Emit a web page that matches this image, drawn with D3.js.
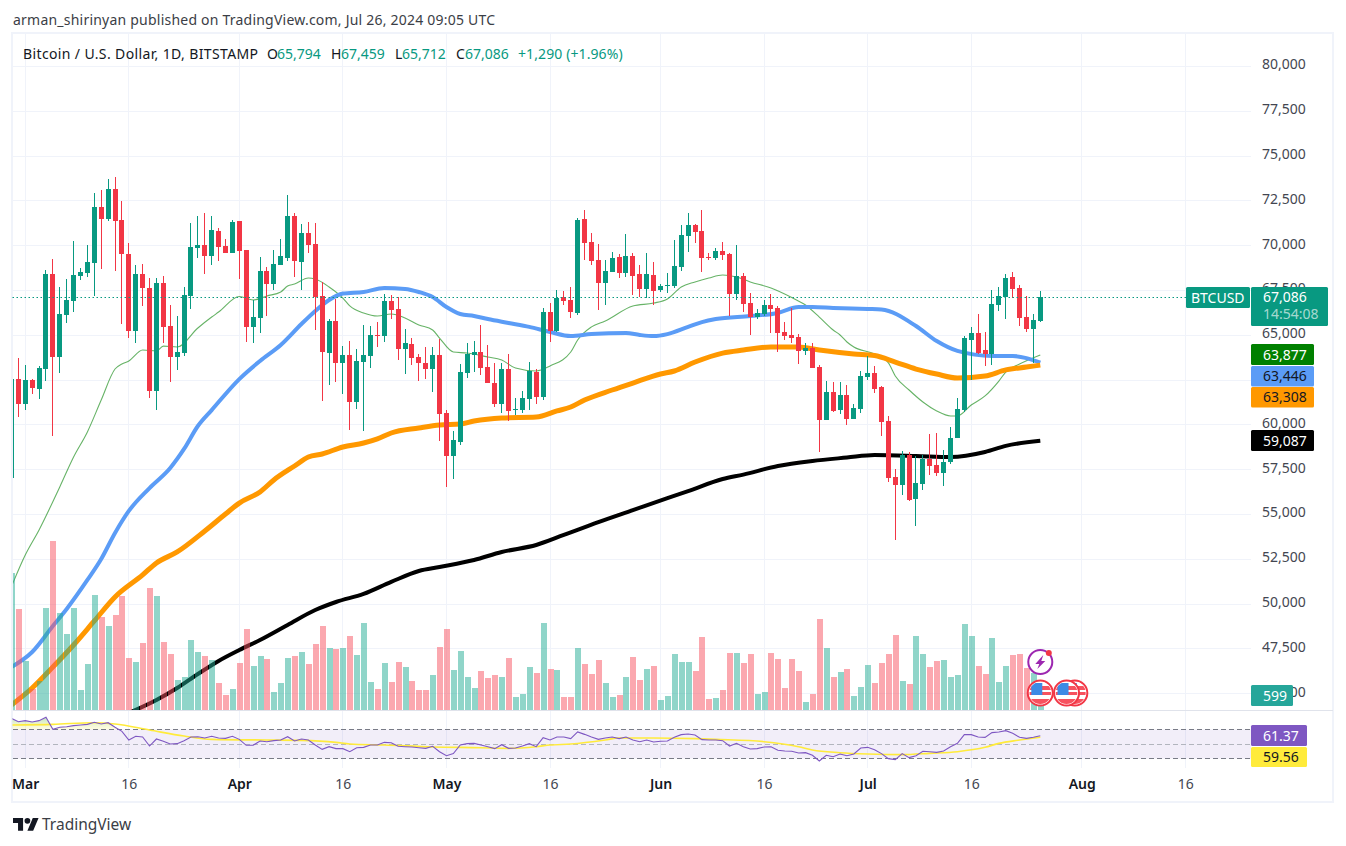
<!DOCTYPE html>
<html><head><meta charset="utf-8">
<script src="https://cdn.jsdelivr.net/npm/d3@7/dist/d3.min.js"></script>
<style>html,body{margin:0;padding:0;background:#fff;overflow:hidden}svg{display:block}
text{font-family:"Noto Sans",sans-serif}</style></head><body>
<svg id="c" width="1346" height="846"></svg>
<script>
// Day index 0 = 1 March 2024. Series below run from day -2 to day 147.
const firstDay = -2;
const opens = [57000,62510,61130,62470,61970,63090,68390,63760,66100,66880,
68280,68440,69000,72130,71460,73130,71400,69500,65210,68390,
67610,61860,67890,65490,63760,63980,67160,69840,70010,69390,
70790,69950,69560,71350,69730,65430,65930,68560,67830,68890,
69280,71630,69060,70680,70060,67160,63980,65770,63420,63870,
61250,63480,63810,64980,64930,66880,66440,64200,64480,63760,
63420,63090,63870,60630,58230,59010,62860,63870,64040,63200,
62310,61130,63090,60800,60800,61410,62920,61530,66270,65210,
67100,66940,66210,71460,70170,69170,67890,68500,69340,68440,
69390,68390,67550,68330,67500,67720,67720,68780,70510,71120,
70790,69340,69280,69670,69500,67270,68280,66770,65990,66160,
66660,66490,65150,64980,64870,64090,64260,63200,60240,61800,
60800,61640,60300,60860,62640,62860,62080,60190,57060,56620,
58290,55830,56670,58070,57730,57280,57900,59240,60800,64710,
65100,64150,63920,66660,67100,68220,67610,65990,65320,65794];
const highs = [62510,63680,63310,62530,63260,68610,69230,67660,68110,70230,
68720,70010,72910,73080,73690,73800,72460,70120,68890,68950,
68170,68170,68280,66660,66050,67660,71230,71630,71790,71630,
70960,70340,71400,71350,69730,66940,69340,68780,69730,70340,
72800,71790,71180,71290,71230,67940,65880,66990,64370,64650,
64200,65540,65490,65710,67270,67220,67100,65320,64820,63920,
64320,64320,64760,60800,59630,63370,64540,64650,65540,64430,
63420,63420,63920,61470,61860,63480,63090,66490,66770,67500,
67440,67660,71510,71960,70680,70060,69170,69620,69500,70620,
69560,68890,69560,69060,67830,68440,70290,71120,71790,71180,
71960,69560,69840,70170,69560,70010,68440,67330,66440,66940,
67270,66600,65710,66490,65040,64540,64540,63310,62420,62360,
62360,62190,61130,62980,63810,63260,62140,60470,57510,58510,
58460,58230,58290,59460,59520,58570,59850,61470,64930,65430,
66160,65150,67500,67660,68390,68500,67770,67160,66160,67459];
const lows = [56800,60410,60800,61690,61410,62420,59350,62860,65650,66270,
68050,68220,67160,68670,71350,68560,65600,64820,64540,66600,
61470,60800,64540,62360,63030,63810,66440,69280,68390,68890,
69110,69560,69560,68110,64590,64540,65100,66050,67500,68890,
69110,68220,67500,69560,65260,61300,62190,62360,61690,59680,
60860,59630,63140,64320,64590,65880,63590,62810,63310,62420,
62530,61800,59070,56500,56950,58850,62590,62920,62750,62310,
60970,60630,60190,60520,60630,60800,61130,61360,64590,65150,
66660,65930,66100,69170,68890,66380,66660,68500,68170,68220,
67220,67100,67050,66660,67380,67330,67610,68560,69620,70120,
68500,69170,69170,69170,66050,66940,66270,64980,65880,66050,
65100,64040,64710,64540,63370,63870,63140,58460,60240,60690,
60580,59960,60300,60630,62470,61750,59350,56780,53550,56060,
55720,54330,56340,57170,57120,56560,57790,59240,60690,62470,
63920,63260,63310,66320,65880,67050,65490,65150,63420,65712];
const closes = [62510,61130,62470,62030,63140,68390,63760,66160,66940,68330,
68500,69060,72130,71460,73130,71350,69500,65210,68390,67610,
61860,67890,65430,63760,64040,67220,69900,70010,69390,70840,
69900,69560,71290,69670,65430,65990,68560,67830,68950,69390,
71630,69110,70680,70010,67100,64040,65770,63420,63870,61250,
63530,63870,64980,64930,66880,66380,64200,64540,63700,63420,
63090,63870,60580,58230,59130,62920,63920,64040,63140,62310,
61130,63090,60740,60860,61470,62980,61530,66270,65210,67050,
66880,66270,71400,70120,69110,67890,68560,69280,68440,69390,
68280,67550,68390,67440,67720,67770,68830,70560,71120,70730,
69280,69280,69670,69450,67270,68280,66710,65990,66210,66660,
66440,65100,64930,64820,64090,64260,63140,60240,61800,60740,
61640,60300,60910,62700,62860,61970,60130,57010,56620,58290,
55780,56730,58070,57680,57280,57900,59240,60860,64820,65100,
63980,63920,66710,67160,68170,67550,65930,65320,65800,67086];
const volumes = [5646,4172,2024,868,1198,4214,6981,4007,3140,4214,
826,1900,4751,3842,3470,3924,4709,2148,1983,2768,
5040,4709,2809,2313,1239,1363,2892,2396,2231,2066,
1115,620,868,1942,3346,1818,2231,2107,744,1115,
2148,2231,2396,1900,2726,3470,2561,2520,2561,3057,
2272,3594,1157,868,1942,1157,1983,1776,1198,826,
826,1446,2603,3346,1652,2437,1363,909,1611,1322,
1446,1363,2148,537,661,1776,1528,3594,1694,1652,
537,537,2561,1900,1487,2066,1115,537,620,1363,
2189,1239,1694,1818,413,578,2313,1983,1983,1611,
3016,454,496,826,2355,2355,1942,2313,661,744,
2355,2107,909,2107,1611,330,661,3759,2561,1363,
1570,1694,578,950,1859,1115,1942,2313,3098,1198,
1074,3057,2313,1776,2024,2066,1363,1446,3553,3057,
1818,1487,2974,1157,1818,2272,2313,1735,1528,599];
const rsiValues = [85.4,80.8,82.2,80.4,82.2,86.8,70.2,73,73.9,75.3,
76.2,77.1,79.9,77.6,79.4,73,67.5,55.5,60.6,59.7,
47.2,56.9,53.7,50,50.5,54.6,59.7,60.1,58.3,60.6,
58.3,57.8,60.6,56.4,48.2,48.2,54.1,53.2,54.6,55.5,
60.1,54.1,56.9,55.5,48.6,42.6,46.3,43.6,43.6,39.4,
44.9,45.4,48.6,48.6,52.3,51.8,46.8,46.3,45.9,44.9,
44,46.8,39.4,33.9,36.7,48.6,50.5,50.9,48.6,46.3,
43.6,49.1,44,44.5,47.2,50.5,46.3,58.7,55.5,59.7,
59.7,57.4,66.6,63.3,59.7,56.4,58.3,59.7,57.4,59.7,
55.5,53.2,55.5,52.8,53.7,54.1,59.2,62.9,63.8,62.4,
56,55.5,55.5,54.6,47.2,50.9,46.3,43.1,43.6,45.9,
46.3,41.3,40.3,39.9,37.6,38.1,34.4,26.6,34.4,32.5,
36.2,33.9,36.2,44.5,45.4,42.2,36.7,29.8,28.4,36.7,
31.2,33.9,39.9,39.4,38.5,40.3,46.3,50.9,62.9,62.9,
59.7,59.2,65.7,66.6,68.4,64.7,59.2,57.8,59.2,61.37];
// Moving averages, read at the days listed.
const ma20Days = [-2,0,2,5,7,9,11,13,14,15,17,19,20,22,25,27,28,31,33,35,37,38,39,41,42,44,46,47,49,51,53,55,57,59,60,62,64,67,69,71,74,76,79,80,82,84,88,91,93,95,97,99,101,103,105,108,111,113,115,117,118,119,120,123,125,126,128,130,132,134,135,137,139,141,142,144,147];
const ma20Values = [50950,52710,54110,56510,58180,59580,61360,63090,63370,63540,64150,64100,64370,64320,65380,65990,66270,67140,66940,67170,67390,67720,67830,68170,68110,67670,67050,66610,66220,66050,66160,65940,65550,65270,64820,64040,63980,63760,63590,63150,62980,63260,64040,64710,65440,65770,66610,66770,67000,67670,67950,68170,68340,68230,67950,67610,67080,66660,65990,65270,64990,64600,64320,63930,63430,62700,61920,61250,60750,60470,60470,61080,61590,62420,62920,63370,63877];
const ma50Days = [-2,1,4,6,9,11,13,15,18,21,23,25,27,31,34,37,40,42,44,46,49,52,55,57,59,61,63,65,67,70,73,76,79,82,87,89,91,93,96,98,100,105,109,112,114,117,122,124,129,132,135,140,143,145,147];
const ma50Values = [46460,47300,48750,49700,51320,52490,53940,55170,56450,57570,58630,59910,60800,62530,63540,64430,65600,66330,66940,67300,67390,67610,67560,67390,67110,66550,66160,66050,65880,65660,65440,65160,64930,65040,65100,64990,64930,65040,65440,65710,65880,66050,66220,66550,66550,66500,66440,66410,65490,64650,64100,63820,63820,63700,63446];
const ma100Days = [-2,1,4,7,10,13,17,19,22,26,29,31,34,36,39,41,43,46,49,51,53,57,60,63,65,69,74,77,79,81,85,88,92,94,97,101,104,108,112,115,120,123,126,129,132,135,139,142,145,147];
const ma100Values = [44340,45290,46460,47690,49030,50370,51600,52270,52880,54050,55000,55610,56230,56900,57680,58180,58350,58740,58960,59190,59520,59800,59970,60020,60190,60360,60410,60750,60970,61360,61920,62310,62810,62980,63480,63980,64150,64320,64320,64150,63930,63840,63480,63090,62810,62590,62700,63040,63200,63308];
const ma200Days = [15,19,22,25,28,31,34,38,42,45,49,53,57,60,65,69,74,78,83,88,93,96,101,104,109,114,119,123,129,134,139,142,147];
const ma200Values = [43900,44620,45290,46070,46800,47410,47970,48810,49640,50090,50540,51210,51820,52040,52430,52880,53270,53830,54550,55220,55890,56280,56950,57200,57680,57960,58150,58290,58240,58180,58460,58800,59087];
const rsiMaDays = [-2,4,10,13,18,23,27,35,40,45,47,52,59,66,70,74,76,79,84,86,91,97,100,107,112,114,118,122,127,131,135,139,141,144,147];
const rsiMaValues = [76.2,77.1,79.4,77.6,69.3,61,56.4,55.5,55,52.3,50,48.6,45.9,44.9,44,46.3,48.6,50,55.5,58.3,58.3,57.4,56.4,53.2,46.3,41.7,38,36.2,35.3,37.1,39.4,45.4,50.9,55.5,59.56];
const priceTicks = [45000,47500,50000,52500,55000,57500,60000,62500,65000,67500,70000,72500,75000,77500,80000];
const timeTickDays = [0,15,31,46,61,76,92,107,122,137,153,168];
const timeTickLabels = ["Mar","16","Apr","16","May","16","Jun","16","Jul","16","Aug","16"];
const boldTicks = ["Mar","Apr","May","Jun","Jul","Aug"];
const rsiLevels = [70,50,30];
const legendValues = [["O","65,794"],["H","67,459"],["L","65,712"],["C","67,086"]];

const UP="#089981", DOWN="#F23645", GRID="#f0f3fa", TXT="#131722", AX="#434651";
const svg=d3.select("#c");
const x=d3.scaleLinear().domain([0,147]).range([25.25,1040.29]);
const y=d3.scaleLinear().domain([60000,80000]).range([424.4,66]);
const yVol=d3.scaleLinear().domain([0,7000]).range([710,540.5]);
const yRsi=d3.scaleLinear().domain([30,70]).range([758.5,729.5]);
const L=12.5,R=1251,T=34,B=710,RB=768;
const cx=d=>Math.floor(x(d))+.5;
const rows=opens.map((o,i)=>({d:i+firstDay,o,h:highs[i],l:lows[i],c:closes[i],v:volumes[i],r:rsiValues[i]}));

const defs=svg.append("defs");
defs.append("clipPath").attr("id","main").append("rect").attr("x",13).attr("y",T).attr("width",R-13).attr("height",B-T);
defs.append("clipPath").attr("id","rsi").append("rect").attr("x",L).attr("y",B+1).attr("width",R-L).attr("height",RB-B-1);
defs.append("clipPath").attr("id","flagclip").append("circle").attr("r",11);
const g1=defs.append("linearGradient").attr("id","ob").attr("x1",0).attr("x2",0).attr("y1",0).attr("y2",1);
g1.append("stop").attr("offset","0").attr("stop-color","#4caf50").attr("stop-opacity",.35);
g1.append("stop").attr("offset","1").attr("stop-color","#ffeb3b").attr("stop-opacity",.15);

// header
svg.append("text").attr("x",13).attr("y",25).attr("font-size",14).attr("letter-spacing",.22).attr("fill","#3b3e46").text("arman_shirinyan published on TradingView.com, Jul 26, 2024 09:05 UTC");

// frame
svg.append("rect").attr("x",12).attr("y",33).attr("width",1321).attr("height",769).attr("fill","none").attr("stroke",GRID).attr("stroke-width",2);

// grid
const grid=svg.append("g").attr("shape-rendering","crispEdges").attr("stroke",GRID);
grid.selectAll(".h").data(priceTicks).join("line").attr("x1",L).attr("x2",R)
  .attr("y1",d=>Math.round(y(d))+.5).attr("y2",d=>Math.round(y(d))+.5);
grid.selectAll(".v").data(timeTickDays).join("line").attr("x1",d=>cx(d)).attr("x2",d=>cx(d)).attr("y1",T).attr("y2",RB);

// pane separator
svg.append("line").attr("x1",L).attr("x2",1333).attr("y1",B+.5).attr("y2",B+.5).attr("stroke","#e0e3eb").attr("shape-rendering","crispEdges");

// price axis
const axY=svg.append("g").attr("transform",`translate(${R},-1.5)`).call(d3.axisRight(y).tickValues(priceTicks).tickSize(0).tickPadding(11).tickFormat(d3.format(",")));
axY.select(".domain").remove();
axY.selectAll("text").attr("font-size",14).attr("fill",AX).style("font-family",'"Noto Sans",sans-serif');

// time axis
const axX=svg.append("g").attr("transform",`translate(0,${RB+2})`).call(d3.axisBottom(x).tickValues(timeTickDays).tickSize(0).tickPadding(9).tickFormat((d,i)=>timeTickLabels[i]));
axX.select(".domain").remove();
axX.selectAll("text").attr("font-size",14).style("font-family",'"Noto Sans",sans-serif')
  .attr("fill",function(){return boldTicks.includes(this.textContent)?TXT:AX;})
  .attr("font-weight",function(){return boldTicks.includes(this.textContent)?600:400;});

// main pane
const main=svg.append("g").attr("clip-path","url(#main)");
const lineOf=(days,vals)=>d3.line().x((d,i)=>x(days[i])).y(d=>y(d)).curve(d3.curveMonotoneX)(vals);
main.append("path").attr("d",lineOf(ma20Days,ma20Values)).attr("fill","none").attr("stroke","#008000").attr("stroke-opacity",.6).attr("stroke-width",1.1);
main.append("path").attr("d",lineOf(ma50Days,ma50Values)).attr("fill","none").attr("stroke","#5B9CF6").attr("stroke-width",4);
main.append("path").attr("d",lineOf(ma100Days,ma100Values)).attr("fill","none").attr("stroke","#FF9800").attr("stroke-width",5);
main.append("path").attr("d",lineOf(ma200Days,ma200Values)).attr("fill","none").attr("stroke","#000").attr("stroke-width",4);

// last price line
svg.append("line").attr("x1",L).attr("x2",1186).attr("y1",Math.round(y(67086))+.5).attr("y2",Math.round(y(67086))+.5)
  .attr("stroke",UP).attr("stroke-dasharray","1.5,2.5").attr("stroke-width",1);

// candles
const colour=d=>d.c>=d.o?UP:DOWN;
const cand=main.append("g").attr("shape-rendering","crispEdges");
cand.selectAll(".w").data(rows).join("rect").attr("x",d=>cx(d.d)-.5).attr("width",1)
  .attr("y",d=>y(d.h)).attr("height",d=>Math.max(1,y(d.l)-y(d.h))).attr("fill",colour);
cand.selectAll(".b").data(rows).join("rect").attr("x",d=>cx(d.d)-2.5).attr("width",5)
  .attr("y",d=>y(Math.max(d.o,d.c))).attr("height",d=>Math.max(1,Math.abs(y(d.o)-y(d.c)))).attr("fill",colour);

// volume
main.append("g").attr("shape-rendering","crispEdges").selectAll("rect").data(rows).join("rect")
  .attr("x",d=>cx(d.d)-3).attr("width",6).attr("y",d=>yVol(d.v)).attr("height",d=>710-yVol(d.v))
  .attr("fill",d=>d.c>=d.o?"#22AB94":"#F7525F").attr("fill-opacity",.5);

// RSI pane
const rp=svg.append("g").attr("clip-path","url(#rsi)");
rp.append("rect").attr("x",L).attr("width",R-L).attr("y",yRsi(70)).attr("height",yRsi(30)-yRsi(70)).attr("fill","#7E57C2").attr("fill-opacity",.1);
rp.append("path").datum(rows).attr("fill","url(#ob)")
  .attr("d",d3.area().x(d=>x(d.d)).y0(yRsi(70)).y1(d=>yRsi(Math.max(d.r,70))));
rp.selectAll(".lv").data(rsiLevels).join("line").attr("x1",L).attr("x2",R).attr("y1",d=>yRsi(d)).attr("y2",d=>yRsi(d))
  .attr("stroke",d=>d===50?"#b2b5be":"#787B86").attr("stroke-dasharray","5,3").attr("shape-rendering","crispEdges");
rp.append("path").attr("fill","none").attr("stroke","#FFEB3B").attr("stroke-width",1.6)
  .attr("d",d3.line().x((d,i)=>x(rsiMaDays[i])).y(d=>yRsi(d)).curve(d3.curveMonotoneX)(rsiMaValues));
rp.append("path").datum(rows).attr("fill","none").attr("stroke","#7E57C2").attr("stroke-width",1.1)
  .attr("d",d3.line().x(d=>x(d.d)).y(d=>yRsi(d.r)));

// legend
const lg=svg.append("g").attr("font-size",14);
lg.append("text").attr("x",23).attr("y",59).attr("letter-spacing",.37).attr("fill",TXT).text("Bitcoin / U.S. Dollar, 1D, BITSTAMP");
const lgX=[[267,277],[331,341],[395,402],[456,465]];
legendValues.forEach((p,i)=>{
  lg.append("text").attr("x",lgX[i][0]).attr("y",59).attr("fill",TXT).text(p[0]);
  lg.append("text").attr("x",lgX[i][1]).attr("y",59).attr("fill",UP).text(p[1]);
});
lg.append("text").attr("x",518).attr("y",59).attr("letter-spacing",.1).attr("fill",UP).text("+1,290 (+1.96%)");

// price labels
function tag(x0,y0,w,h,bg,fg,txt,size){
  svg.append("rect").attr("x",x0).attr("y",y0).attr("width",w).attr("height",h).attr("rx",1.5).attr("fill",bg);
  svg.append("text").attr("x",1263).attr("y",y0+h/2+5).attr("font-size",size||14).attr("fill",fg).text(txt);
}
svg.append("rect").attr("x",1186).attr("y",287).attr("width",64).attr("height",21).attr("rx",1.5).attr("fill",UP);
svg.append("text").attr("x",1191).attr("y",302.5).attr("font-size",14).attr("fill","#fff").text("BTCUSD");
svg.append("rect").attr("x",1251).attr("y",287).attr("width",77).attr("height",39).attr("rx",1.5).attr("fill",UP);
svg.append("text").attr("x",1263).attr("y",302).attr("font-size",14).attr("fill","#fff").text("67,086");
svg.append("text").attr("x",1263).attr("y",319).attr("font-size",14).attr("fill","#fff").attr("fill-opacity",.65).text("14:54:08");
tag(1251,344,63,21,"#008000","#fff","63,877");
tag(1251,366,63,20.5,"#5B9CF6","#131722","63,446");
tag(1251,387,63,20.5,"#FF9800","#131722","63,308");
tag(1251,430,63,21,"#000","#fff","59,087");
tag(1251,685,42,21,"#26A69A","#fff","599");
tag(1251,725,56,21,"#7E57C2","#fff","61.37");
tag(1251,747,56,20,"#FFEB3B","#131722","59.56");

// event icons
function flag(day,yy){
  const g=svg.append("g").attr("transform",`translate(${x(day)},${yy})`);
  g.append("circle").attr("r",12.5).attr("fill","#fff").attr("stroke","#F23645").attr("stroke-width",2);
  const c=g.append("g").attr("clip-path","url(#flagclip)");
  c.append("rect").attr("x",-11).attr("y",-11).attr("width",22).attr("height",22).attr("fill","#fff");
  c.append("rect").attr("x",-11).attr("y",-7).attr("width",22).attr("height",4).attr("fill","#f7525f");
  c.append("rect").attr("x",-11).attr("y",-1).attr("width",22).attr("height",3).attr("fill","#f7525f");
  c.append("rect").attr("x",-11).attr("y",6).attr("width",22).attr("height",5).attr("fill","#f7525f");
  c.append("rect").attr("x",-9).attr("y",-10).attr("width",11).attr("height",12).attr("fill","#3d8ae5");
}
flag(152,693);flag(150.8,693);flag(147,693);
const bolt=svg.append("g").attr("transform",`translate(${x(147)},662)`);
bolt.append("circle").attr("r",12).attr("fill","#fff").attr("stroke","#9C27B0").attr("stroke-width",2);
bolt.append("path").attr("d","M3,-7 L-5,2 L-1,2 L-3,7 L5,-1 L1,-1 Z").attr("fill","#9C27B0");
svg.append("circle").attr("cx",x(147)+8.5).attr("cy",653).attr("r",3).attr("fill","#F23645");

// footer logo
const logo=svg.append("g").attr("transform","translate(13,815) scale(.72)").attr("fill","#131722");
logo.append("path").attr("d","M14 22H7V11H0V4h14v18zM28 22h-8l7.5-18h8L28 22z");
logo.append("circle").attr("cx",20).attr("cy",8).attr("r",4);
svg.append("text").attr("x",42).attr("y",830).attr("font-size",15.5).attr("fill","#3b3e46").text("TradingView");
</script></body></html>
